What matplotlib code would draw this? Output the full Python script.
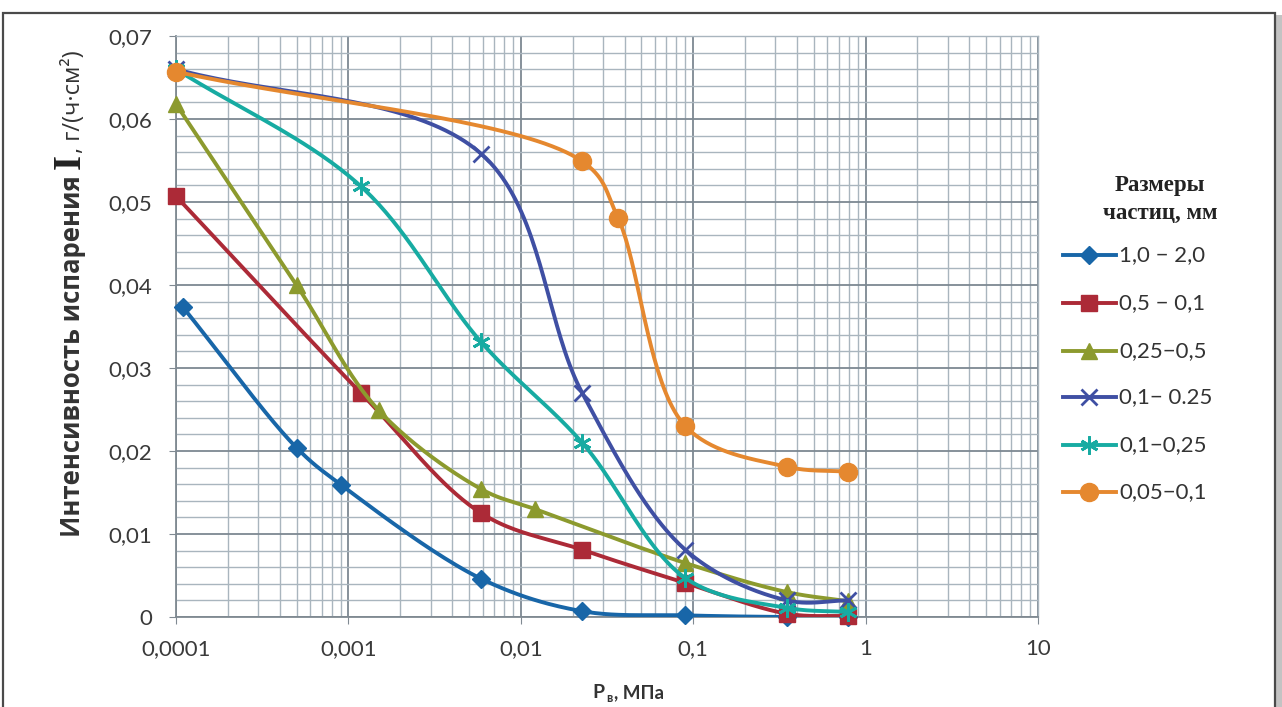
import numpy as np
import matplotlib
matplotlib.use("Agg")
import matplotlib.pyplot as plt
from matplotlib.lines import Line2D
from matplotlib.patches import Rectangle
from matplotlib.ticker import LogLocator, MultipleLocator, FixedLocator, NullFormatter

# ---------------- data ----------------
series_labels = ["1,0 − 2,0", "0,5 − 0,1", "0,25−0,5", "0,1− 0.25", "0,1−0,25", "0,05−0,1"]

x_s1 = [0.00011, 0.0005, 0.00091, 0.0059, 0.0227, 0.09, 0.35, 0.79]
y_s1 = [0.0373, 0.0204, 0.0159, 0.0046, 0.0007, 0.0002, 0.0, 0.0]

x_s2 = [0.0001, 0.00118, 0.0059, 0.0227, 0.09, 0.35, 0.79]
y_s2 = [0.0507, 0.0270, 0.0125, 0.0081, 0.0041, 0.0004, 0.0001]

x_s3 = [0.0001, 0.0005, 0.0015, 0.0059, 0.0121, 0.09, 0.35, 0.79]
y_s3 = [0.0618, 0.0400, 0.0249, 0.0154, 0.0130, 0.0065, 0.0030, 0.0019]

x_s4 = [0.0001, 0.0059, 0.0227, 0.09, 0.35, 0.79]
y_s4 = [0.0660, 0.0558, 0.0270, 0.0081, 0.0020, 0.0020]

x_s5 = [0.0001, 0.00118, 0.0059, 0.0227, 0.09, 0.35, 0.79]
y_s5 = [0.0660, 0.0519, 0.0331, 0.0210, 0.0047, 0.0011, 0.0006]

x_s6 = [0.0001, 0.0227, 0.0366, 0.09, 0.35, 0.79]
y_s6 = [0.0657, 0.0549, 0.0481, 0.0230, 0.0181, 0.0175]

xs = [x_s1, x_s2, x_s3, x_s4, x_s5, x_s6]
ys = [y_s1, y_s2, y_s3, y_s4, y_s5, y_s6]

x_ticks = [0.0001, 0.001, 0.01, 0.1, 1, 10]
x_tick_labels = ["0,0001", "0,001", "0,01", "0,1", "1", "10"]
y_ticks = [0, 0.01, 0.02, 0.03, 0.04, 0.05, 0.06, 0.07]
y_tick_labels = ["0", "0,01", "0,02", "0,03", "0,04", "0,05", "0,06", "0,07"]

colors = ["#1866A8", "#AC2A37", "#8C9A2E", "#3F4FA3", "#17ABA2", "#E5882F"]
markers = ["D", "s", "^", "x", (6, 2, 0), "o"]
msizes = [9, 12, 11, 12, 13, 13]

# ---------------- figure ----------------
W, H = 1282, 707
fig = plt.figure(figsize=(W / 100, H / 100), dpi=100)
fig.patch.set_facecolor("white")

def fx(px):
    return px / W

def fy(py):
    return 1 - py / H

# frame + shadow
fig.add_artist(Rectangle((fx(1276), 0), fx(6), fy(15), transform=fig.transFigure,
                         facecolor="#C3C3C3", edgecolor="none", zorder=0))
fig.add_artist(Rectangle((fx(3), fy(720)), fx(1272), fy(13) - fy(720), transform=fig.transFigure,
                         facecolor="none", edgecolor="#4A4A4A", lw=1.6, zorder=0))

L, R, T, B = 176, 1038, 36, 617
ax = fig.add_axes([fx(L), fy(B), fx(R - L), fy(T) - fy(B)])
ax.set_xscale("log")
ax.set_xlim(0.0001, 10)
ax.set_ylim(0, 0.07)

ax.xaxis.set_major_locator(FixedLocator(x_ticks))
ax.xaxis.set_minor_locator(LogLocator(base=10, subs=np.arange(2, 10)))
ax.xaxis.set_minor_formatter(NullFormatter())
ax.set_xticks(x_ticks)
ax.set_xticklabels(x_tick_labels)
ax.set_yticks(y_ticks)
ax.set_yticklabels(y_tick_labels)
ax.yaxis.set_minor_locator(MultipleLocator(0.002))

ax.grid(which="major", color="#7D8892", lw=1.3)
ax.grid(which="minor", color="#A9B5BE", lw=1.0)
ax.set_axisbelow(True)

for s in ["top", "right"]:
    ax.spines[s].set_color("#A9B5BE")
    ax.spines[s].set_linewidth(1.0)
for s in ["left", "bottom"]:
    ax.spines[s].set_color("#808A92")
    ax.spines[s].set_linewidth(1.3)

ax.tick_params(which="major", length=5, color="#808A92", labelsize=16,
               labelcolor="#3A3A3A")
ax.tick_params(axis="y", pad=12)
ax.tick_params(axis="x", pad=11)
ax.tick_params(which="minor", length=0)
for lab in ax.get_xticklabels() + ax.get_yticklabels():
    lab.set_fontfamily("Lato")

# smoothing: centripetal Catmull-Rom in screen-proportional space
def smooth(xv, yv, n=40):
    u = np.log10(np.asarray(xv, float)) * 172.4
    v = np.asarray(yv, float) * 8300
    P = np.column_stack([u, v])
    P = np.vstack([P[0] - (P[1] - P[0]), P, P[-1] + (P[-1] - P[-2])])
    out = []
    for i in range(1, len(P) - 2):
        p0, p1, p2, p3 = P[i - 1], P[i], P[i + 1], P[i + 2]
        t0 = 0.0
        t1 = t0 + max(np.linalg.norm(p1 - p0), 1e-6) ** 0.5
        t2 = t1 + max(np.linalg.norm(p2 - p1), 1e-6) ** 0.5
        t3 = t2 + max(np.linalg.norm(p3 - p2), 1e-6) ** 0.5
        t = np.linspace(t1, t2, n)[:, None]
        A1 = (t1 - t) / (t1 - t0) * p0 + (t - t0) / (t1 - t0) * p1
        A2 = (t2 - t) / (t2 - t1) * p1 + (t - t1) / (t2 - t1) * p2
        A3 = (t3 - t) / (t3 - t2) * p2 + (t - t2) / (t3 - t2) * p3
        B1 = (t2 - t) / (t2 - t0) * A1 + (t - t0) / (t2 - t0) * A2
        B2 = (t3 - t) / (t3 - t1) * A2 + (t - t1) / (t3 - t1) * A3
        C = (t2 - t) / (t2 - t1) * B1 + (t - t1) / (t2 - t1) * B2
        out.append(C if i == 1 else C[1:])
    out = np.vstack(out)
    return 10 ** (out[:, 0] / 172.4), out[:, 1] / 8300

for i in range(6):
    sx, sy = smooth(xs[i], ys[i])
    ax.plot(sx, sy, color=colors[i], lw=2.8, zorder=3 + i, solid_capstyle="round")
    mew = 2.0 if i in (3, 4) else 1.0
    ax.plot(xs[i], ys[i], ls="none", marker=markers[i], ms=msizes[i], color=colors[i],
            mec=colors[i], mew=mew, zorder=3 + i, clip_on=False)

# x axis label
fig.text(fx(592), fy(693), "P", fontsize=14, fontweight="bold", color="#333333",
         fontfamily="Lato", ha="left", va="center")
fig.text(fx(606), fy(698), "в", fontsize=9, fontweight="bold", color="#333333",
         fontfamily="Lato", ha="left", va="center")
fig.text(fx(614), fy(693), ", МПа", fontsize=13.5, fontweight="bold", color="#333333",
         fontfamily="Lato", ha="left", va="center")

# y axis label, chained along the baseline
fig.canvas.draw()
rend = fig.canvas.get_renderer()
base_x = fx(80)
t1 = fig.text(base_x, fy(537), "Интенсивность испарения", rotation=90, rotation_mode="anchor",
              ha="left", va="baseline", fontsize=18.5, fontweight="bold", color="#333333",
              fontfamily="Open Sans")
bb = t1.get_window_extent(rend)
t2 = fig.text(base_x, (bb.y1 + 6) / H, "I", rotation=90, rotation_mode="anchor",
              ha="left", va="baseline", fontsize=28, fontweight="bold", color="#222222",
              fontfamily="Liberation Serif")
bb2 = t2.get_window_extent(rend)
t3 = fig.text(base_x, (bb2.y1 + 1) / H, ", г/(ч·см²)", rotation=90, rotation_mode="anchor",
              ha="left", va="baseline", fontsize=17, color="#333333",
              fontfamily="Open Sans")

# legend (manual)
fig.text(fx(1160), fy(185), "Размеры", ha="center", va="center", fontsize=16.5,
         fontweight="bold", fontfamily="Liberation Serif", color="#222222")
fig.text(fx(1160), fy(213), "частиц, мм", ha="center", va="center", fontsize=16.5,
         fontweight="bold", fontfamily="Liberation Serif", color="#222222")
row_y = [255, 303, 351, 397, 445, 492]
for i in range(6):
    yy = fy(row_y[i])
    fig.add_artist(Line2D([fx(1063), fx(1116)], [yy, yy], transform=fig.transFigure,
                          color=colors[i], lw=2.8))
    mew = 2.0 if i in (3, 4) else 1.0
    fig.add_artist(Line2D([fx(1089)], [yy], transform=fig.transFigure, ls="none",
                          marker=markers[i], ms=msizes[i], color=colors[i], mec=colors[i], mew=mew))
    fig.text(fx(1119), yy, series_labels[i], ha="left", va="center", fontsize=16,
             fontfamily="Lato", color="#333333")

fig.savefig("out.png", dpi=100)
